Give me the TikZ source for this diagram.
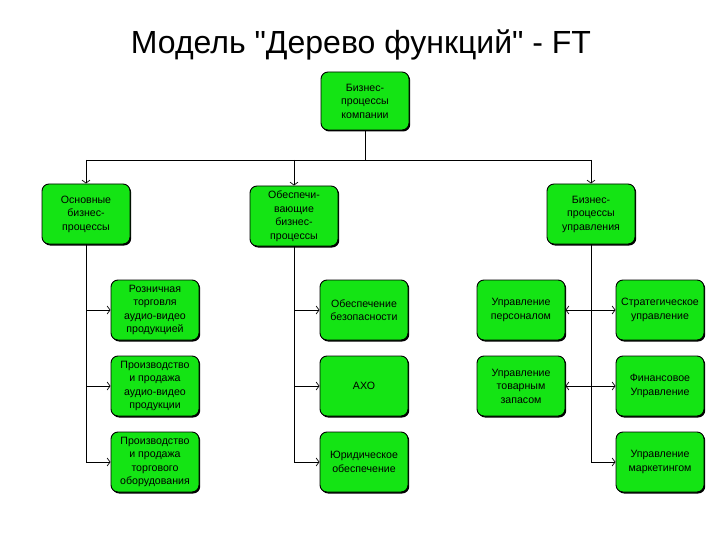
\documentclass[tikz,border=0pt]{standalone}
\usepackage{fontspec}
\setmainfont{Liberation Sans}
\newfontfamily\titlefont{Liberation Sans}[Ligatures=TeXOff]
\usetikzlibrary{arrows.meta,shadows}
\definecolor{boxgreen}{RGB}{20,228,20}
\tikzset{
  fbox/.style={draw=black, line width=0.9pt, fill=boxgreen, rounded corners=7pt,
    minimum width=88pt, minimum height=60pt, inner sep=1pt, align=center,
    font=\fontsize{10.6}{13.5}\selectfont,
    drop shadow={shadow xshift=1.2pt, shadow yshift=-1.5pt, opacity=1, fill=black}},
  link/.style={line width=0.7pt},
  arr/.style={link, -{Straight Barb[length=3pt,width=8pt]}}
}
\begin{document}
\begin{tikzpicture}[x=1pt,y=-1pt]
    \useasboundingbox (0,0) rectangle (720,540);
    % Draw the title
    \node (title) at (361,45) {\titlefont\fontsize{32}{38}\selectfont Модель "Дерево функций" - FT};

    % Draw the root and the three branches
    \node[fbox, minimum height=58pt] (biz) at (365,101) {Бизнес-\\процессы\\компании};
    \node[fbox] (osn) at (86,214) {Основные\\бизнес-\\процессы};
    \node[fbox] (obesp) at (294,216) {Обеспечи-\\вающие\\бизнес-\\процессы};
    \node[fbox] (uprav) at (591,214) {Бизнес-\\процессы\\управления};

    % Draw the leaves
    \node[fbox] (rozn) at (155,310) {Розничная\\торговля\\аудио-видео\\продукцией};
    \node[fbox] (proizv) at (155,386) {Производство\\и продажа\\аудио-видео\\продукции};
    \node[fbox] (obor) at (155,462) {Производство\\и продажа\\торгового\\оборудования};
    \node[fbox] (bezop) at (364,310) {Обеспечение\\безопасности};
    \node[fbox] (aho) at (364,386) {АХО};
    \node[fbox] (jur) at (364,462) {Юридическое\\обеспечение};
    \node[fbox] (pers) at (521,310) {Управление\\персоналом};
    \node[fbox] (zapas) at (521,386) {Управление\\товарным\\запасом};
    \node[fbox] (strat) at (660,310) {Стратегическое\\управление};
    \node[fbox] (fin) at (660,386) {Финансовое\\Управление};
    \node[fbox] (mark) at (660,462) {Управление\\маркетингом};

    % Draw the bus under the root
    \coordinate (busL) at (86,160);
    \coordinate (busR) at (591,160);
    \draw[link] (busL) -- (busR);
    \draw[link] (biz.south) -- (biz.south |- busL);
    \draw[arr] (busL) -- (osn.north);
    \draw[arr] (obesp.north |- busL) -- (obesp.north);
    \draw[arr] (busR) -- (uprav.north);

    % Draw the arrows to the leaves
    \draw[arr] (osn.south) |- (obor.west);
    \foreach \b in {rozn, proizv} {
    \draw[arr] (osn.south |- \b.west) -- (\b.west);
    }
    \draw[arr] (obesp.south) |- (jur.west);
    \foreach \b in {bezop, aho} {
    \draw[arr] (obesp.south |- \b.west) -- (\b.west);
    }
    \draw[arr] (uprav.south) |- (mark.west);
    \foreach \b in {strat, fin} {
    \draw[arr] (uprav.south |- \b.west) -- (\b.west);
    }
    \foreach \b in {pers, zapas} {
    \draw[arr] (uprav.south |- \b.east) -- (\b.east);
    }
\end{tikzpicture}
\end{document}
